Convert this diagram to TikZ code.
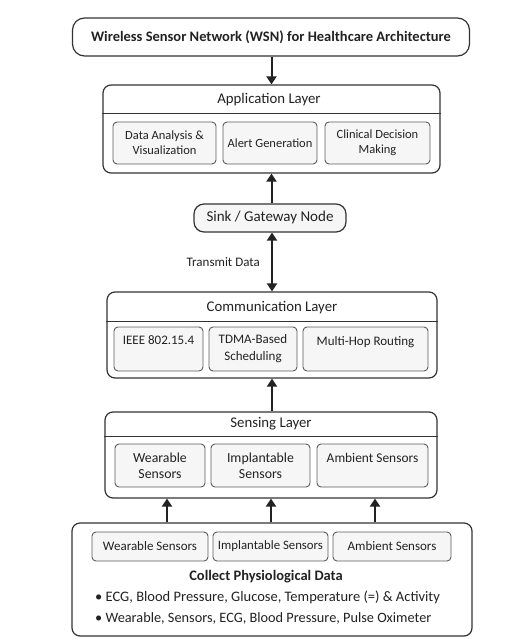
\documentclass[tikz,border=0pt]{standalone}
\usepackage{fontspec}
\setmainfont{Carlito}
\usetikzlibrary{arrows.meta,calc}
\definecolor{ink}{HTML}{222222}
\definecolor{edge}{HTML}{333333}
\definecolor{boxfill}{HTML}{F6F6F6}
\begin{document}
\begin{tikzpicture}[x=1pt,y=-1pt,
  outerbox/.style={draw=edge,line width=1.2pt,rounded corners=8pt,fill=white,inner sep=0pt},
  innerbox/.style={draw=edge!80,line width=0.9pt,rounded corners=4pt,fill=boxfill,inner sep=0pt,align=center,font=\fontsize{12.5}{15}\selectfont,text=ink},
  lbl/.style={font=\fontsize{14.8}{17}\selectfont,text=ink,inner sep=0pt},
  arr/.style={line width=2pt,draw=ink,-{Triangle[length=8pt,width=10pt]}},
  darr/.style={line width=2pt,draw=ink,{Triangle[length=8pt,width=10pt]}-{Triangle[length=8pt,width=10pt]}}]
\useasboundingbox (0,0) rectangle (526,644);
% title
\node[outerbox,rounded corners=12pt,minimum width=397pt,minimum height=38pt,font=\fontsize{14.5}{16}\selectfont\bfseries,text=ink] (title) at (271,37) {Wireless Sensor Network (WSN) for Healthcare Architecture};
% application layer
\node[outerbox,minimum width=337pt,minimum height=88pt] (app) at (271.5,129) {};
\node[lbl] (apptitle) at (269,100) {Application Layer};
\draw[edge,line width=1pt] ($(app.north west)+(0,29)$) coordinate (ad1) -- ($(app.north east)+(0,29)$) coordinate (ad2);
\node[innerbox,minimum width=103pt,minimum height=42pt] (a1) at (164.5,143) {Data Analysis \&\\Visualization};
\node[innerbox,minimum width=94pt,minimum height=42pt] (a2) at (270,143) {Alert Generation};
\node[innerbox,minimum width=105pt,minimum height=42pt] (a3) at (377.5,143) {Clinical Decision\\Making};
% sink
\node[outerbox,rounded corners=10pt,fill=boxfill,minimum width=152pt,minimum height=28pt,font=\fontsize{15}{17}\selectfont,text=ink] (sink) at (270,218) {Sink / Gateway Node};
% communication layer
\node[outerbox,minimum width=330pt,minimum height=86pt] (comm) at (272,335) {};
\node[lbl] (commtitle) at (272,308) {Communication Layer};
\draw[edge,line width=1pt] ($(comm.north west)+(0,30)$) coordinate (cd1) -- ($(comm.north east)+(0,30)$) coordinate (cd2);
\node[innerbox,minimum width=89pt,minimum height=44pt,font=\fontsize{13}{17}\selectfont] (c1) at (158.5,349) {IEEE 802.15.4\\\mbox{}};
\node[innerbox,minimum width=88pt,minimum height=44pt,font=\fontsize{13}{17}\selectfont] (c2) at (253,349) {TDMA-Based\\Scheduling};
\node[innerbox,minimum width=125pt,minimum height=44pt,font=\fontsize{13}{17}\selectfont] (c3) at (365.5,349) {Multi-Hop Routing\\\mbox{}};
% sensing layer
\node[outerbox,minimum width=332pt,minimum height=86pt] (sens) at (271,455) {};
\node[lbl] (senstitle) at (271,424) {Sensing Layer};
\draw[edge,line width=1pt] ($(sens.north west)+(0,25)$) coordinate (sd1) -- ($(sens.north east)+(0,25)$) coordinate (sd2);
\node[innerbox,minimum width=90pt,minimum height=43pt,font=\fontsize{13.8}{16}\selectfont] (s1) at (160,465.5) {Wearable\\Sensors};
\node[innerbox,minimum width=99pt,minimum height=43pt,font=\fontsize{13.8}{16}\selectfont] (s2) at (260.5,465.5) {Implantable\\Sensors};
\node[innerbox,minimum width=111pt,minimum height=43pt,font=\fontsize{13.4}{16}\selectfont] (s3) at (372.5,465.5) {Ambient Sensors\\\mbox{}};
% bottom
\node[outerbox,minimum width=400pt,minimum height=113pt] (bot) at (272,579.5) {};
\node[innerbox,minimum width=116pt,minimum height=29pt,font=\fontsize{13}{15}\selectfont] (b1) at (150,546.5) {Wearable Sensors};
\node[innerbox,minimum width=115pt,minimum height=29pt,font=\fontsize{12.8}{15}\selectfont] (b2) at (270.5,546.5) {Implantable Sensors};
\node[innerbox,minimum width=118pt,minimum height=29pt,font=\fontsize{13}{15}\selectfont] (b3) at (392,546.5) {Ambient Sensors};
\node[lbl,font=\fontsize{14.5}{17}\selectfont\bfseries] (collect) at (266,577) {Collect Physiological Data};
\node[lbl,anchor=west,font=\fontsize{14.5}{17}\selectfont] (bul1) at (95,597) {• ECG, Blood Pressure, Glucose, Temperature (=) \& Activity};
\node[lbl,anchor=west,font=\fontsize{14.3}{17}\selectfont] (bul2) at (95,618) {• Wearable, Sensors, ECG, Blood Pressure, Pulse Oximeter};
% arrows
\draw[arr] (title.south -| app.north) -- (app.north);
\draw[arr] (sink.north -| app.south) -- (app.south);
\draw[darr] (sink.south -| comm.north) -- (comm.north);
\node[lbl,font=\fontsize{13}{15}\selectfont,anchor=east] (tx) at (260,262) {Transmit Data};
\draw[arr] (sens.north -| comm.south) -- (comm.south);
\coordinate (x1) at (167,0);
\coordinate (x2) at (271,0);
\coordinate (x3) at (375,0);
\draw[arr] (bot.north -| x1) -- (sens.south -| x1);
\draw[arr] (bot.north -| x2) -- (sens.south -| x2);
\draw[arr] (bot.north -| x3) -- (sens.south -| x3);
\end{tikzpicture}
\end{document}
